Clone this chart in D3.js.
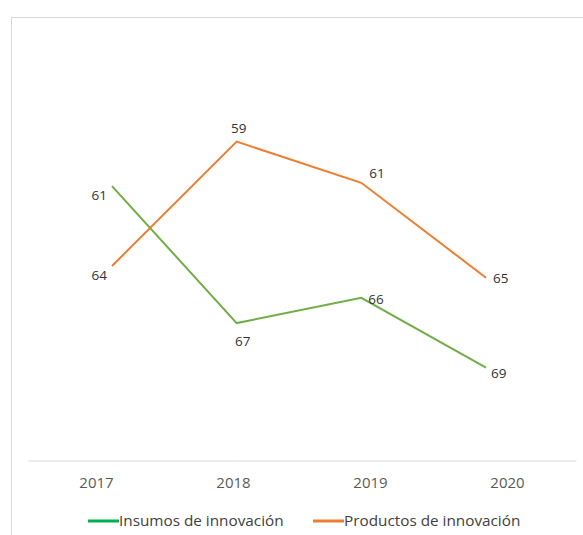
<!DOCTYPE html>
<meta charset="utf-8">
<script src="https://d3js.org/d3.v7.min.js"></script>
<style>
  body { margin: 0; background: #fff; }
</style>
<div id="my_dataviz"></div>
<script>

// categories and series
var years = ["2017", "2018", "2019", "2020"];
var seriesNames = ["Insumos de innovación", "Productos de innovación"];
var insumosScore = [32.6, 16.3, 19.3, 11.0];
var productosScore = [23.1, 37.9, 33.0, 21.7];
// ranking labels shown at each point
var insumosRank = [61, 67, 66, 69];
var productosRank = [64, 59, 61, 65];
// where each label sits relative to its point
var insumosLabelPos = ["leftBelow", "below", "right", "rightBelow"];
var productosLabelPos = ["leftBelow", "above", "aboveRight", "right"];

var lineColors = ["#70ad47", "#ed7d31"];
var legendColors = ["#00b050", "#ed7d31"];

var W = 583, H = 535;

var svg = d3.select("#my_dataviz")
  .append("svg")
  .attr("width", W)
  .attr("height", H)
  .style("font-family", "'Open Sans', sans-serif");

// chart frame (only top and left edges are visible in the crop)
svg.append("rect")
  .attr("x", 11.5)
  .attr("y", 17.5)
  .attr("width", 640)
  .attr("height", 560)
  .attr("fill", "none")
  .attr("stroke", "#d9d9d9");

// x axis scale (category bands) and the line points scale
var xBand = d3.scaleBand()
  .domain(years)
  .range([28, 576]);

var x = d3.scalePoint()
  .domain(years)
  .range([112, 486]);

var y = d3.scaleLinear()
  .domain([0, 50])
  .range([460, 40]);

// axis
var xAxis = svg.append("g")
  .attr("transform", "translate(0,460.5)")
  .call(d3.axisBottom(xBand).tickSize(0).tickPadding(17));
xAxis.select(".domain").attr("stroke", "#d9d9d9");
xAxis.selectAll("text")
  .attr("fill", "#595959")
  .style("font-size", "15px")
  .style("font-family", "'Open Sans', sans-serif");

// lines
var series = [
  { name: seriesNames[0], score: insumosScore, rank: insumosRank, pos: insumosLabelPos, color: lineColors[0] },
  { name: seriesNames[1], score: productosScore, rank: productosRank, pos: productosLabelPos, color: lineColors[1] }
];

var line = d3.line()
  .x(function(d, i) { return x(years[i]); })
  .y(function(d) { return y(d); });

series.forEach(function(s) {
  svg.append("path")
    .datum(s.score)
    .attr("fill", "none")
    .attr("stroke", s.color)
    .attr("stroke-width", 2)
    .attr("d", line);
});

// label offsets by placement name
var offsets = {
  leftBelow:  { dx: -5,  dy: 9,   anchor: "end" },
  below:      { dx: 6,   dy: 18,  anchor: "middle" },
  above:      { dx: 2,   dy: -13, anchor: "middle" },
  right:      { dx: 7,   dy: 1,   anchor: "start" },
  rightBelow: { dx: 5,   dy: 6,   anchor: "start" },
  aboveRight: { dx: 8,   dy: -10, anchor: "start" }
};

series.forEach(function(s) {
  svg.selectAll(null)
    .data(s.rank)
    .enter()
    .append("text")
      .attr("x", function(d, i) { return x(years[i]) + offsets[s.pos[i]].dx; })
      .attr("y", function(d, i) { return y(s.score[i]) + offsets[s.pos[i]].dy; })
      .attr("dy", "0.35em")
      .attr("text-anchor", function(d, i) { return offsets[s.pos[i]].anchor; })
      .attr("fill", "#333333")
      .style("font-size", "13.5px")
      .text(function(d) { return d; });
});

// legend
var legendX = [88, 313];
var legend = svg.selectAll(".legend")
  .data(seriesNames)
  .enter()
  .append("g")
  .attr("transform", function(d, i) { return "translate(" + legendX[i] + ",521)"; });

legend.append("line")
  .attr("x1", 0).attr("x2", 31)
  .attr("y1", 0).attr("y2", 0)
  .attr("stroke", function(d, i) { return legendColors[i]; })
  .attr("stroke-width", 3);

legend.append("text")
  .attr("x", 31)
  .attr("y", 0)
  .attr("dy", "0.35em")
  .attr("fill", "#404040")
  .style("font-size", "15.3px")
  .text(function(d) { return d; });

</script>
